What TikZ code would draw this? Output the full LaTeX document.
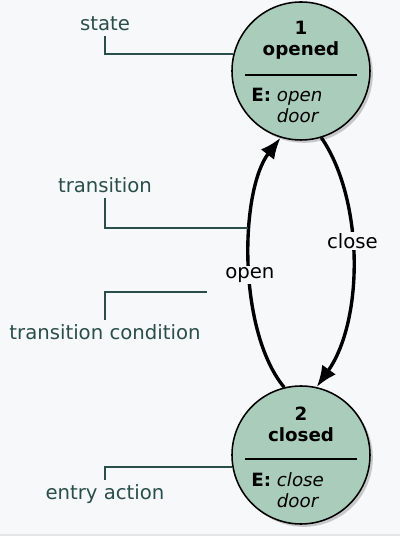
\documentclass[tikz,border=0pt]{standalone}
\usepackage{fontspec}
\setmainfont{DejaVu Sans}
\usepackage{xcolor}
\usepackage{tikz}
\usetikzlibrary{calc,shadows,arrows.meta}

\definecolor{bgcol}{RGB}{247,248,250}
\definecolor{stfill}{RGB}{170,204,187}
\definecolor{notecol}{RGB}{42,78,74}

\begin{document}
\begin{tikzpicture}[
  state/.style={circle,draw=black,line width=1.1pt,fill=stfill,minimum size=3.45cm,inner sep=0pt,
    drop shadow={shadow xshift=2pt,shadow yshift=-2pt,opacity=0.4}},
  stext/.style={font=\fontsize{13}{14.9}\selectfont,inner sep=0pt},
  note/.style={text=notecol,font=\fontsize{14}{17}\selectfont,anchor=base},
  noteline/.style={draw=notecol,line width=1.7pt},
  trans/.style={line width=2.4pt,-{Latex[length=5.3mm,width=4.2mm]}},
  tlabel/.style={fill=bgcol,font=\fontsize{14}{17}\selectfont,inner sep=1pt}]

\useasboundingbox (0,0) rectangle (10,13.4);
\fill[bgcol] (0,0) rectangle (10,13.4);
\fill[black!10] (0,0) rectangle (10,0.06);

\node[state](s1) at (7.525,11.625){};
\node[stext,align=center](n1) at ($(s1.center)+(0,0.77)$){\textbf{1}\\\textbf{opened}};
\draw[line width=1.1pt]($(s1.center)+(-1.4,-0.1)$)--($(s1.center)+(1.4,-0.1)$);
\node[stext,align=left,anchor=west](e1) at ($(s1.center)+(-1.25,-0.87)$){\textbf{E:} \textit{open}\\\phantom{\textbf{E:} }\textit{door}};

\node[state](s2) at (7.525,2.025){};
\node[stext,align=center](n2) at ($(s2.center)+(0,0.77)$){\textbf{2}\\\textbf{closed}};
\draw[line width=1.1pt]($(s2.center)+(-1.4,-0.1)$)--($(s2.center)+(1.4,-0.1)$);
\node[stext,align=left,anchor=west](e2) at ($(s2.center)+(-1.25,-0.87)$){\textbf{E:} \textit{close}\\\phantom{\textbf{E:} }\textit{door}};

\draw[trans](s2.104) .. controls (5.925,5.15) and (6.0,8.65) .. node[tlabel,pos=0.45]{open} (s1.253);
\draw[trans](s1.287) .. controls (9.1,8.4) and (9.1,5.4) .. node[tlabel,pos=0.43]{close} (s2.77);

\node[note](lstate) at (2.625,12.625){state};
\node[note](ltrans) at (2.625,8.575){transition};
\node[note](lcond) at (2.625,4.9){transition condition};
\node[note](lentry) at (2.625,0.9){entry action};

\coordinate (tpt) at (6.2,7.7);
\coordinate (cpt) at (5.175,6.1);

\draw[noteline](lstate.south) |- (s1.166);
\draw[noteline](ltrans.south) |- (tpt);
\draw[noteline](lcond.north) |- (cpt);
\draw[noteline](lentry.north) |- (s2.190);

\end{tikzpicture}
\end{document}
